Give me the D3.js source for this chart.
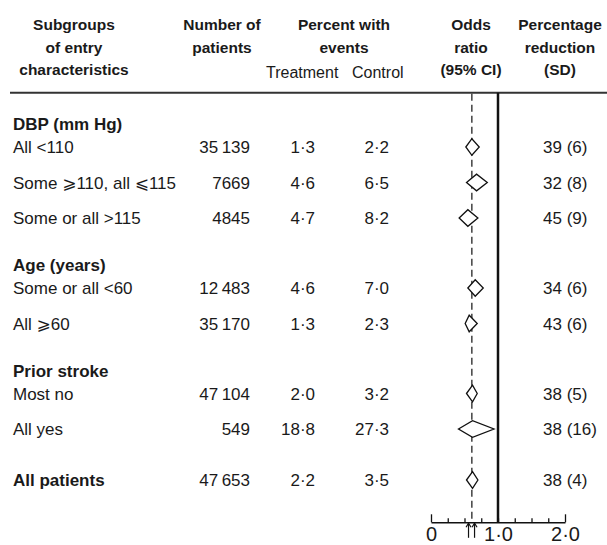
<!DOCTYPE html>
<html>
<head>
<meta charset="utf-8">
<script src="https://cdn.jsdelivr.net/npm/d3@7"></script>
<style>
  html, body { margin: 0; padding: 0; background: #fff; }
  svg { display: block; }
  text { font-family: "Liberation Sans", Arial, "DejaVu Sans", sans-serif; fill: #1a1a1a; }
</style>
</head>
<body>
<svg id="chart" width="607" height="545"></svg>
<script>
// ---------- data ----------
const rowLabels = ["DBP (mm Hg)", "All <110", "Some \u2A7E110, all \u2A7D115", "Some or all >115",
  "Age (years)", "Some or all <60", "All \u2A7E60",
  "Prior stroke", "Most no", "All yes", "All patients"];
const rowTypes = ["header", "item", "item", "item", "header", "item", "item", "header", "item", "item", "total"];
const patients = [null, 35139, 7669, 4845, null, 12483, 35170, null, 47104, 549, 47653];
const treatmentPct = [null, 1.3, 4.6, 4.7, null, 4.6, 1.3, null, 2.0, 18.8, 2.2];
const controlPct = [null, 2.2, 6.5, 8.2, null, 7.0, 2.3, null, 3.2, 27.3, 3.5];
const oddsRatio = [null, 0.61, 0.68, 0.55, null, 0.66, 0.57, null, 0.62, 0.62, 0.62];
const ciLow = [null, 0.52, 0.53, 0.42, null, 0.55, 0.51, null, 0.53, 0.41, 0.53];
const ciHigh = [null, 0.72, 0.84, 0.70, null, 0.78, 0.69, null, 0.69, 0.94, 0.70];
const pctReduction = [null, 39, 32, 45, null, 34, 43, null, 38, 38, 38];
const pctSD = [null, 6, 8, 9, null, 6, 6, null, 5, 16, 4];
const overallOdds = 0.61;
const arrowMarks = [0.56, 0.65];
const axisTicks = [0, 0.25, 0.5, 0.75, 1, 1.25, 1.5, 1.75, 2];
const axisLabels = { 0: "0", 1: "1\u00B70", 2: "2\u00B70" };

// ---------- layout ----------
const svg = d3.select("#chart");
const x = d3.scaleLinear().domain([0, 2]).range([431, 565]);
const ruleY = 92.7, axisY = 522.3;
const colNumR = 250, colTreatR = 315, colCtrlR = 389, colPctL = 543, labelX = 13;

// row baselines
const gap = { "header-item": 23, "item-item": 35.5, "item-header": 47, "item-total": 51 };
const rowY = [];
rowTypes.forEach((t, i) => {
  rowY.push(i === 0 ? 130 : rowY[i - 1] + gap[rowTypes[i - 1] + "-" + t]);
});

const fmtN = n => n >= 10000 ? d3.format("d")(Math.floor(n / 1000)) + "\u2009" + d3.format("03d")(n % 1000) : String(n);
const fmtP = v => d3.format(".1f")(v).replace(".", "\u00B7");

// ---------- header ----------
const hdr = svg.append("g").attr("font-weight", "bold").attr("font-size", 15.5).attr("text-anchor", "middle");
const hdrLines = [
  { cx: 74, lines: ["Subgroups", "of entry", "characteristics"] },
  { cx: 222, lines: ["Number of", "patients"] },
  { cx: 344, lines: ["Percent with", "events"] },
  { cx: 471, lines: ["Odds", "ratio", "(95% CI)"] },
  { cx: 560, lines: ["Percentage", "reduction", "(SD)"] }
];
const hdrBase = [30, 52.5, 75];
hdrLines.forEach(h => h.lines.forEach((t, j) =>
  hdr.append("text").attr("x", h.cx).attr("y", hdrBase[j]).text(t)));
svg.append("text").attr("x", 266).attr("y", 78).attr("font-size", 16).text("Treatment");
svg.append("text").attr("x", 352).attr("y", 78).attr("font-size", 16).text("Control");

svg.append("line").attr("x1", 10).attr("x2", 607).attr("y1", ruleY).attr("y2", ruleY)
  .attr("stroke", "#333").attr("stroke-width", 2);

// ---------- reference lines ----------
svg.append("line").attr("x1", x(overallOdds)).attr("x2", x(overallOdds))
  .attr("y1", ruleY + 1).attr("y2", axisY)
  .attr("stroke", "#111").attr("stroke-width", 1.2).attr("stroke-dasharray", "7,4");
svg.append("line").attr("x1", x(1)).attr("x2", x(1))
  .attr("y1", ruleY).attr("y2", axisY)
  .attr("stroke", "#111").attr("stroke-width", 2.5);

// ---------- rows ----------
const rows = rowLabels.map((label, i) => ({
  label, type: rowTypes[i], y: rowY[i], n: patients[i], t: treatmentPct[i], c: controlPct[i],
  or: oddsRatio[i], lo: ciLow[i], hi: ciHigh[i], red: pctReduction[i], sd: pctSD[i]
}));

const g = svg.append("g").attr("font-size", 17);
g.selectAll("text.label").data(rows).join("text")
  .attr("class", "label").attr("x", labelX).attr("y", d => d.y)
  .attr("font-weight", d => d.type === "item" ? "normal" : "bold")
  .text(d => d.label);

const dataRows = rows.filter(d => d.n !== null);
g.selectAll("text.num").data(dataRows).join("text")
  .attr("x", colNumR).attr("y", d => d.y).attr("text-anchor", "end").text(d => fmtN(d.n));
g.selectAll("text.tr").data(dataRows).join("text")
  .attr("x", colTreatR).attr("y", d => d.y).attr("text-anchor", "end").text(d => fmtP(d.t));
g.selectAll("text.ct").data(dataRows).join("text")
  .attr("x", colCtrlR).attr("y", d => d.y).attr("text-anchor", "end").text(d => fmtP(d.c));
g.selectAll("text.red").data(dataRows).join("text")
  .attr("x", colPctL).attr("y", d => d.y).text(d => d.red + " (" + d.sd + ")");

// diamonds
const dh = 8.3;
svg.selectAll("path.diamond").data(dataRows).join("path")
  .attr("d", d => {
    const cy = d.y - 6;
    return `M${x(d.lo)},${cy} L${x(d.or)},${cy - dh} L${x(d.hi)},${cy} L${x(d.or)},${cy + dh} Z`;
  })
  .attr("fill", "#fff").attr("stroke", "#111").attr("stroke-width", 1.3).attr("stroke-linejoin", "miter");

// ---------- axis ----------
const axis = d3.axisBottom(x).tickValues(axisTicks).tickSizeInner(-4).tickSizeOuter(0)
  .tickPadding(5).tickFormat(d => axisLabels[d] || "");
const ag = svg.append("g").attr("transform", `translate(0,${axisY})`).call(axis);
ag.select(".domain").attr("stroke", "#111").attr("stroke-width", 1.5);
ag.selectAll(".tick line").attr("stroke", "#111").attr("stroke-width", 1.3)
  .attr("y2", d => (d === 0 || d === 2) ? -8 : -4);
ag.selectAll(".tick text").attr("font-size", 20).attr("fill", "#1a1a1a")
  .attr("font-family", "'Liberation Sans', Arial, sans-serif");

// arrows
const ar = svg.append("g").attr("stroke", "#111").attr("stroke-width", 1.2).attr("fill", "none");
arrowMarks.forEach(v => {
  const ax = x(v);
  ar.append("line").attr("x1", ax).attr("x2", ax).attr("y1", axisY + 1.5).attr("y2", axisY + 15.5);
  ar.append("path").attr("d", `M${ax - 2.5},${axisY + 5} L${ax},${axisY + 0.8} L${ax + 2.5},${axisY + 5}`);
});
</script>
</body>
</html>
